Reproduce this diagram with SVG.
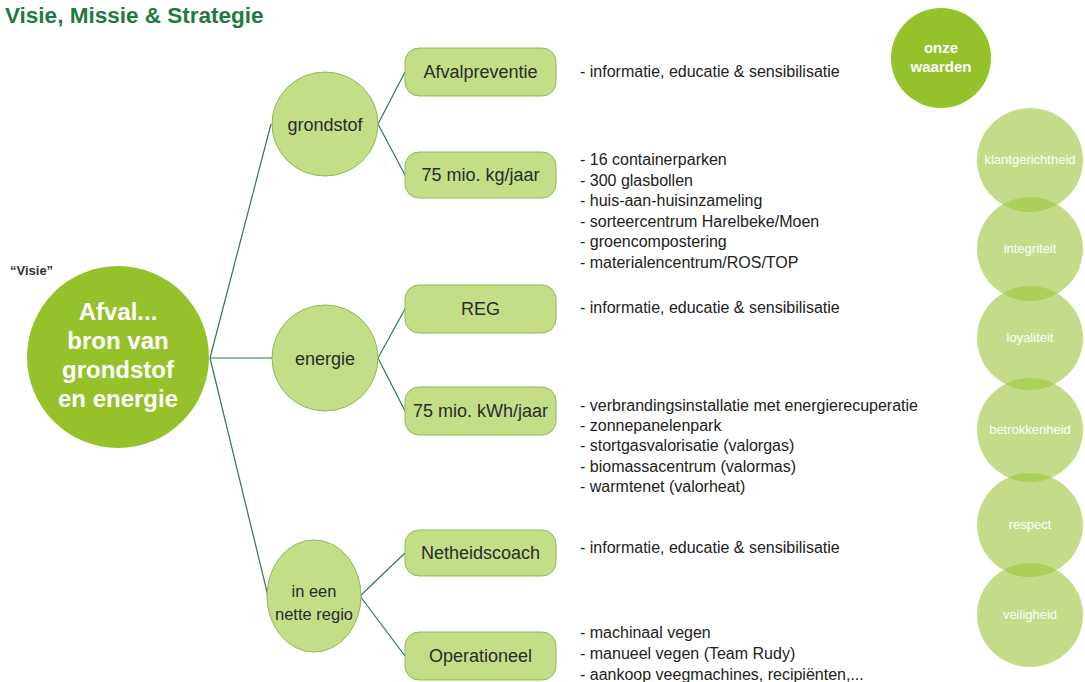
<svg xmlns="http://www.w3.org/2000/svg" width="1085" height="682" viewBox="0 0 1085 682">
<style>
.t{font-family:"Liberation Sans",Arial,sans-serif;}
.title{font-size:22.5px;font-weight:bold;fill:#1e7a40;}
.main{font-size:24px;font-weight:bold;fill:#fff;text-anchor:middle;}
.node{fill:#c4de88;stroke:#8fb75c;stroke-width:1;}
.lbl{font-size:18px;fill:#2b2b2b;text-anchor:middle;}
.lbl2{font-size:16.5px;fill:#2b2b2b;text-anchor:middle;}
.lst{font-size:16px;fill:#222;}
.val{fill:#9cc53a;fill-opacity:0.6;}
.vl{font-size:13px;fill:#fff;text-anchor:middle;}
.conn{stroke:#2e7a4a;stroke-width:1.2;fill:none;}
</style>
<rect width="1085" height="682" fill="#fff"/>
<text class="t title" x="5" y="23">Visie, Missie &amp; Strategie</text>

<g id="connectors">
<line class="conn" x1="210" y1="358" x2="271" y2="124"/>
<line class="conn" x1="210" y1="358" x2="272" y2="358"/>
<line class="conn" x1="210" y1="358" x2="268" y2="596"/>
<line class="conn" x1="378" y1="124" x2="405" y2="72"/>
<line class="conn" x1="378" y1="124" x2="405" y2="175"/>
<line class="conn" x1="378" y1="358" x2="405" y2="309"/>
<line class="conn" x1="378" y1="358" x2="405" y2="411"/>
<line class="conn" x1="360" y1="596" x2="405" y2="553"/>
<line class="conn" x1="360" y1="596" x2="405" y2="656"/>
</g>

<g id="visie">
<text class="t" x="10" y="275" font-size="13" font-weight="bold" fill="#333">“Visie”</text>
<circle cx="118" cy="357" r="91" fill="#95c22b"/>
<text class="t main" x="118" y="320">Afval...</text>
<text class="t main" x="118" y="349">bron van</text>
<text class="t main" x="118" y="378">grondstof</text>
<text class="t main" x="118" y="407">en energie</text>
</g>

<g id="grondstof">
<ellipse class="node" cx="325" cy="124" rx="53" ry="52"/>
<text class="t lbl" x="325" y="131">grondstof</text>
</g>
<g id="energie">
<ellipse class="node" cx="325" cy="358" rx="53" ry="53"/>
<text class="t lbl" x="325" y="365">energie</text>
</g>
<g id="regio">
<ellipse class="node" cx="314" cy="596" rx="47" ry="56"/>
<text class="t lbl2" x="314" y="597">in een</text>
<text class="t lbl2" x="314" y="620">nette regio</text>
</g>

<g id="afvalpreventie">
<rect class="node" x="405" y="48" width="151" height="48" rx="14"/>
<text class="t lbl" x="480.5" y="78">Afvalpreventie</text>
<text class="t lst" x="580" y="77">- informatie, educatie &amp; sensibilisatie</text>
</g>
<g id="kg">
<rect class="node" x="405" y="152" width="151" height="46" rx="14"/>
<text class="t lbl" x="480.5" y="181">75 mio. kg/jaar</text>
<text class="t lst" x="580" y="165">- 16 containerparken</text>
<text class="t lst" x="580" y="185.5">- 300 glasbollen</text>
<text class="t lst" x="580" y="206">- huis-aan-huisinzameling</text>
<text class="t lst" x="580" y="226.5">- sorteercentrum Harelbeke/Moen</text>
<text class="t lst" x="580" y="247">- groencompostering</text>
<text class="t lst" x="580" y="267.5">- materialencentrum/ROS/TOP</text>
</g>
<g id="reg">
<rect class="node" x="405" y="285" width="151" height="48" rx="14"/>
<text class="t lbl" x="480.5" y="315">REG</text>
<text class="t lst" x="580" y="313">- informatie, educatie &amp; sensibilisatie</text>
</g>
<g id="kwh">
<rect class="node" x="405" y="387" width="151" height="48" rx="14"/>
<text class="t lbl" x="480.5" y="417">75 mio. kWh/jaar</text>
<text class="t lst" x="580" y="411">- verbrandingsinstallatie met energierecuperatie</text>
<text class="t lst" x="580" y="431">- zonnepanelenpark</text>
<text class="t lst" x="580" y="451">- stortgasvalorisatie (valorgas)</text>
<text class="t lst" x="580" y="471.5">- biomassacentrum (valormas)</text>
<text class="t lst" x="580" y="492">- warmtenet (valorheat)</text>
</g>
<g id="netheidscoach">
<rect class="node" x="405" y="530" width="151" height="46" rx="14"/>
<text class="t lbl" x="480.5" y="559">Netheidscoach</text>
<text class="t lst" x="580" y="553">- informatie, educatie &amp; sensibilisatie</text>
</g>
<g id="operationeel">
<rect class="node" x="405" y="632" width="151" height="48" rx="14"/>
<text class="t lbl" x="480.5" y="662">Operationeel</text>
<text class="t lst" x="580" y="638">- machinaal vegen</text>
<text class="t lst" x="580" y="659">- manueel vegen (Team Rudy)</text>
<text class="t lst" x="580" y="680">- aankoop veegmachines, recipiënten,...</text>
</g>

<g id="waarden">
<circle cx="941" cy="58" r="50" fill="#95c22b"/>
<text class="t" x="941" y="53" font-size="15" font-weight="bold" fill="#fff" text-anchor="middle">onze</text>
<text class="t" x="941" y="72" font-size="15" font-weight="bold" fill="#fff" text-anchor="middle">waarden</text>
</g>
<g id="klantgerichtheid"><ellipse class="val" cx="1030" cy="160" rx="53" ry="52"/><text class="t vl" x="1030" y="164">klantgerichtheid</text></g>
<g id="integriteit"><ellipse class="val" cx="1030" cy="249" rx="53" ry="52"/><text class="t vl" x="1030" y="253">integriteit</text></g>
<g id="loyaliteit"><ellipse class="val" cx="1030" cy="338" rx="53" ry="52"/><text class="t vl" x="1030" y="342">loyaliteit</text></g>
<g id="betrokkenheid"><ellipse class="val" cx="1030" cy="430" rx="53" ry="52"/><text class="t vl" x="1030" y="434">betrokkenheid</text></g>
<g id="respect"><ellipse class="val" cx="1030" cy="525" rx="53" ry="52"/><text class="t vl" x="1030" y="529">respect</text></g>
<g id="veiligheid"><ellipse class="val" cx="1030" cy="615" rx="53" ry="52"/><text class="t vl" x="1030" y="619">veiligheid</text></g>
</svg>
